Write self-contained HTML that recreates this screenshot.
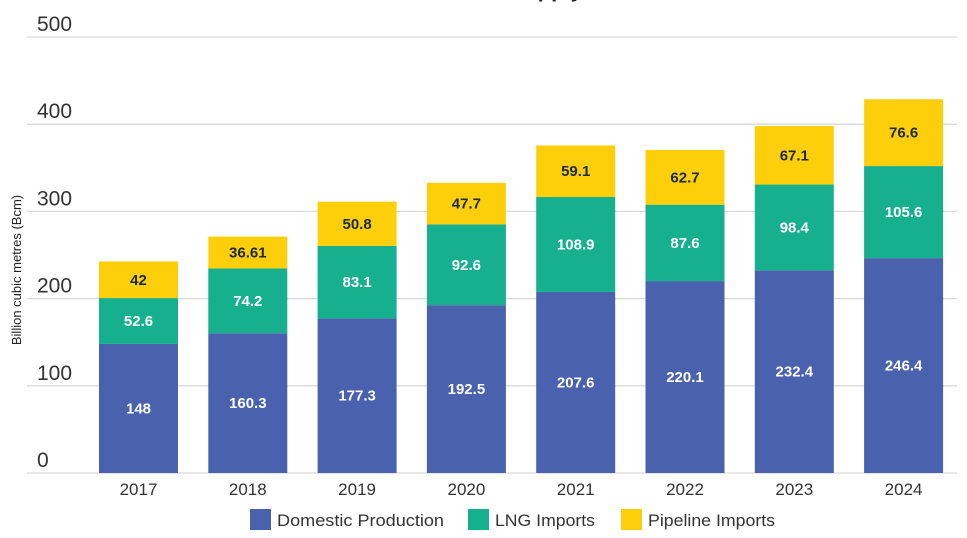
<!DOCTYPE html>
<html><head><meta charset="utf-8"><style>
html,body{margin:0;padding:0;background:#fff;}
svg{display:block;font-family:"Liberation Sans",sans-serif;}
</style></head><body>
<svg width="967" height="538">
<text x="480" y="-3" text-anchor="middle" font-size="22" font-weight="bold" fill="#222">China's Gas Supply</text>
<g id="grid"></g><g id="bars"></g><g id="xlabels"></g>
<text transform="translate(21,270) rotate(-90)" text-anchor="middle" font-size="13" fill="#222">Billion cubic metres (Bcm)</text>
<g>
<rect x="250" y="509" width="21" height="21" fill="#4a62ad"/>
<text x="277" y="526" font-size="17" fill="#333" textLength="167" lengthAdjust="spacingAndGlyphs">Domestic Production</text>
<rect x="468" y="509" width="21" height="21" fill="#17b08f"/>
<text x="495" y="526" font-size="17" fill="#333" textLength="100" lengthAdjust="spacingAndGlyphs">LNG Imports</text>
<rect x="621" y="509" width="21" height="21" fill="#fdcf0a"/>
<text x="648" y="526" font-size="17" fill="#333" textLength="127" lengthAdjust="spacingAndGlyphs">Pipeline Imports</text>
</g>
</svg>
<script>
const years=["2017","2018","2019","2020","2021","2022","2023","2024"];
const domestic=[148,160.3,177.3,192.5,207.6,220.1,232.4,246.4];
const lng=[52.6,74.2,83.1,92.6,108.9,87.6,98.4,105.6];
const pipeline=[42,36.61,50.8,47.7,59.1,62.7,67.1,76.6];
const yTicks=[0,100,200,300,400,500];
const NS="http://www.w3.org/2000/svg";
function y(v){return 473-v*0.872;}
function xc(i){return 138.5+i*109.3;}
const BW=79;
function mk(tag,attrs,parent){const e=document.createElementNS(NS,tag);for(const k in attrs)e.setAttribute(k,attrs[k]);parent.appendChild(e);return e;}
const grid=document.getElementById('grid'),bars=document.getElementById('bars'),xl=document.getElementById('xlabels');
yTicks.forEach(t=>{
 const l=mk('line',{x1:27,x2:957,y1:y(t),y2:y(t),stroke:'#d9d9d9','stroke-width':1.3},grid);
 
 
 const tx=mk('text',{x:37,y:y(t)-6,'font-size':21,fill:'#333'},grid);tx.textContent=t;
 
 
});
const series=[[domestic,'#4a62ad','#fff','domestic'],[lng,'#17b08f','#fff','lng'],[pipeline,'#fdcf0a','#1d2a44','pipeline']];
years.forEach((yr,i)=>{
 let base=0;
 series.forEach(([arr,col,tc,nm])=>{
  const v=arr[i];
  const r=mk('rect',{x:xc(i)-BW/2,y:y(base+v),width:BW,height:y(base)-y(base+v),fill:col},bars);
  
  
  const t=mk('text',{x:xc(i),y:(y(base)+y(base+v))/2+5,'text-anchor':'middle','font-size':15,'font-weight':'bold',fill:tc},bars);
  t.textContent=v;
  
  
  base+=v;
 });
 const t=mk('text',{x:xc(i),y:495,'text-anchor':'middle','font-size':17,fill:'#333'},xl);
 t.textContent=yr;
 
 
});
</script>
</body></html>
